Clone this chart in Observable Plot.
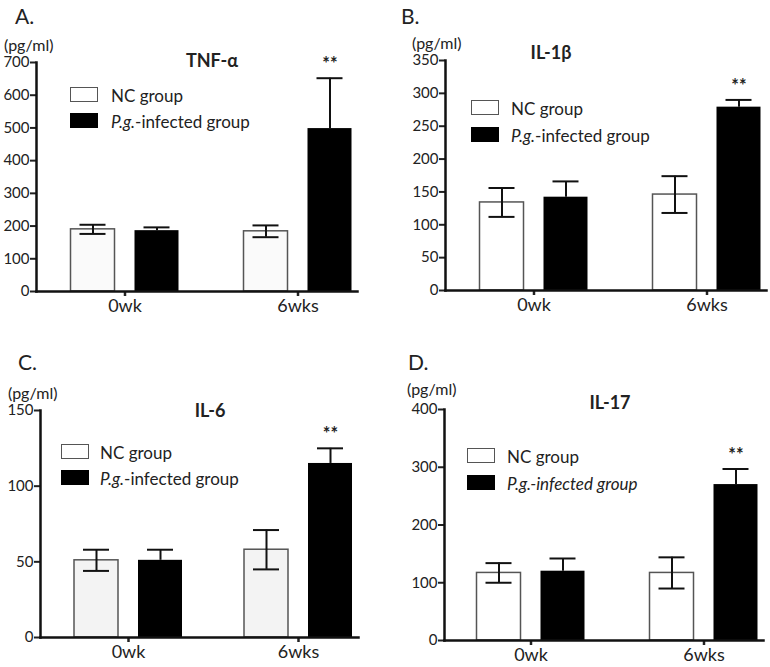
<!DOCTYPE html>
<html>
<head>
<meta charset="utf-8">
<script src="https://cdn.jsdelivr.net/npm/d3@7"></script>
<script src="https://cdn.jsdelivr.net/npm/@observablehq/plot@0.6"></script>
<style>
  html, body { margin: 0; padding: 0; background: #fff; }
  #root { position: relative; width: 770px; height: 667px; overflow: hidden; font-family: Lato, "Open Sans", sans-serif; color: #222; }
  .pnl { position: absolute; }
  .lbl { position: absolute; white-space: nowrap; transform: translateY(-50%); line-height: 1; }
  .ttl { position: absolute; white-space: nowrap; transform: translate(-50%, -50%); font-weight: bold; font-size: 18px; line-height: 1; }
  .box { position: absolute; width: 26px; height: 13px; box-sizing: content-box; }
  .box.nc { border: 1.5px solid #555; background: #fff; }
  .box.pg { border: 1.5px solid #000; background: #000; }
</style>
</head>
<body>
<div id="root"></div>
<script>
// ---------- data ----------
const categories = ["0wk", "6wks"];
const groupNames = ["NC group", "P.g.-infected group"];
const sigLabels = ["", "**"];

// A. TNF-α
const tnfNC = [190, 184];
const tnfNCErr = [14, 18];
const tnfPg = [186, 498];
const tnfPgErr = [10, 154];

// B. IL-1β
const il1NC = [134, 146];
const il1NCErr = [22, 28];
const il1Pg = [142, 279];
const il1PgErr = [24, 11];

// C. IL-6
const il6NC = [51, 58];
const il6NCErr = [7, 13];
const il6Pg = [51, 115];
const il6PgErr = [7, 10];

// D. IL-17
const il17NC = [117, 117];
const il17NCErr = [17, 27];
const il17Pg = [120, 270];
const il17PgErr = [22, 27];

const yTicksA = [0, 100, 200, 300, 400, 500, 600, 700];
const yTicksB = [0, 50, 100, 150, 200, 250, 300, 350];
const yTicksC = [0, 50, 100, 150];
const yTicksD = [0, 100, 200, 300, 400];

// ---------- layout ----------
const panels = [
  {letter: "A.", title: "TNF-α", nc: tnfNC, ncErr: tnfNCErr, pg: tnfPg, pgErr: tnfPgErr, ticks: yTicksA,
   left: 0, top: 0, h: 330, mt: 62, mb: 39, ml: 36, mr: 28, c1: 124, c2: 297, ncFill: "#fafafa",
   letterPos: [15, 15], unitPos: [4, 45], titlePos: [212, 60], legPos: [70, 87, 111], legGap: 26, italicAll: false},
  {letter: "B.", title: "IL-1β", nc: il1NC, ncErr: il1NCErr, pg: il1Pg, pgErr: il1PgErr, ticks: yTicksB,
   left: 385, top: 0, h: 330, mt: 60, mb: 40, ml: 60, mr: 4, c1: 148, c2: 321, ncFill: "#ffffff",
   letterPos: [401, 15], unitPos: [412, 43], titlePos: [551, 52], legPos: [471, 100, 511], legGap: 27, italicAll: false},
  {letter: "C.", title: "IL-6", nc: il6NC, ncErr: il6NCErr, pg: il6Pg, pgErr: il6PgErr, ticks: yTicksC,
   left: 0, top: 330, h: 337, mt: 80, mb: 30, ml: 40, mr: 27, c1: 128, c2: 298, ncFill: "#f3f3f3",
   letterPos: [18, 361], unitPos: [8, 393], titlePos: [210, 410], legPos: [61, 444, 100], legGap: 26, italicAll: false},
  {letter: "D.", title: "IL-17", nc: il17NC, ncErr: il17NCErr, pg: il17Pg, pgErr: il17PgErr, ticks: yTicksD,
   left: 385, top: 330, h: 337, mt: 79, mb: 27, ml: 59, mr: 7, c1: 145, c2: 318, ncFill: "#ffffff",
   letterPos: [408, 361], unitPos: [407, 389], titlePos: [610, 402], legPos: [467, 448, 507], legGap: 27, italicAll: true}
];

const root = document.getElementById("root");
const off = 32, bw = 44, cap = 26;

function addDiv(cls, x, y, html, extra) {
  const d = document.createElement("div");
  d.className = cls;
  d.style.left = x + "px";
  d.style.top = y + "px";
  d.innerHTML = html;
  if (extra) Object.assign(d.style, extra);
  root.appendChild(d);
  return d;
}

for (const p of panels) {
  const nc = categories.map((c, i) => ({cat: c, mean: p.nc[i], err: p.ncErr[i]}));
  const pg = categories.map((c, i) => ({cat: c, mean: p.pg[i], err: p.pgErr[i], sig: sigLabels[i]}));
  const step = p.c2 - p.c1, half = step / 2;
  const yMax = p.ticks[p.ticks.length - 1];

  const chart = Plot.plot({
    width: 385,
    height: p.h,
    marginTop: p.mt,
    marginBottom: p.mb,
    marginLeft: p.ml,
    marginRight: p.mr,
    style: {fontFamily: "Lato, 'Open Sans', sans-serif", color: "#222", background: "transparent", overflow: "visible"},
    x: {type: "band", domain: categories, range: [p.c1 - half, p.c2 + half], padding: 0},
    y: {domain: [0, yMax]},
    marks: [
      Plot.barY(nc, {x: "cat", y: "mean", fill: p.ncFill, stroke: "#555", strokeWidth: 1.5,
        insetLeft: half - off - bw / 2, insetRight: half + off - bw / 2}),
      Plot.barY(pg, {x: "cat", y: "mean", fill: "#000",
        insetLeft: half + off - bw / 2, insetRight: half - off - bw / 2}),
      Plot.ruleX(nc, {x: "cat", y1: d => d.mean - d.err, y2: d => d.mean + d.err, dx: -off, stroke: "#111", strokeWidth: 2}),
      Plot.tickY(nc, {x: "cat", y: d => d.mean + d.err, dx: -off, insetLeft: half - cap / 2, insetRight: half - cap / 2, stroke: "#111", strokeWidth: 2}),
      Plot.tickY(nc, {x: "cat", y: d => d.mean - d.err, dx: -off, insetLeft: half - cap / 2, insetRight: half - cap / 2, stroke: "#111", strokeWidth: 2}),
      Plot.ruleX(pg, {x: "cat", y1: "mean", y2: d => d.mean + d.err, dx: off, stroke: "#111", strokeWidth: 2}),
      Plot.tickY(pg, {x: "cat", y: d => d.mean + d.err, dx: off, insetLeft: half - cap / 2, insetRight: half - cap / 2, stroke: "#111", strokeWidth: 2}),
      Plot.text(pg, {x: "cat", y: d => d.mean + d.err, text: "sig", dx: off, dy: -14, fontSize: 18, fontWeight: "bold", fill: "#222"}),
      Plot.axisY({ticks: p.ticks, tickSize: 6, tickPadding: 1, fontSize: 15, strokeWidth: 2, label: null, tickFormat: d => String(d)}),
      Plot.axisX({tickSize: 5, tickPadding: 3, fontSize: 18, strokeWidth: 2.5, label: null}),
      Plot.frame({anchor: "left", strokeWidth: 2.5, stroke: "#111"}),
      Plot.frame({anchor: "bottom", strokeWidth: 2.5, stroke: "#111"})
    ]
  });
  const holder = document.createElement("div");
  holder.className = "pnl";
  holder.style.left = p.left + "px";
  holder.style.top = p.top + "px";
  holder.appendChild(chart);
  root.appendChild(holder);

  // panel letter, unit, title
  addDiv("lbl", p.letterPos[0], p.letterPos[1], p.letter, {fontSize: "21px"});
  addDiv("lbl", p.unitPos[0], p.unitPos[1], "(pg/ml)", {fontSize: "16px", background: "transparent"});
  addDiv("ttl", p.titlePos[0], p.titlePos[1], p.title);

  // legend
  const [bx, by, tx] = p.legPos;
  addDiv("box nc", bx, by, "");
  addDiv("box pg", bx, by + p.legGap, "");
  addDiv("lbl", tx, by + 8, groupNames[0], {fontSize: "17px"});
  const pgLabel = p.italicAll ? "<i>" + groupNames[1] + "</i>"
    : "<i>" + groupNames[1].slice(0, 4) + "</i>" + groupNames[1].slice(4);
  addDiv("lbl", tx, by + p.legGap + 8, pgLabel, {fontSize: "17px"});
}
</script>
</body>
</html>
